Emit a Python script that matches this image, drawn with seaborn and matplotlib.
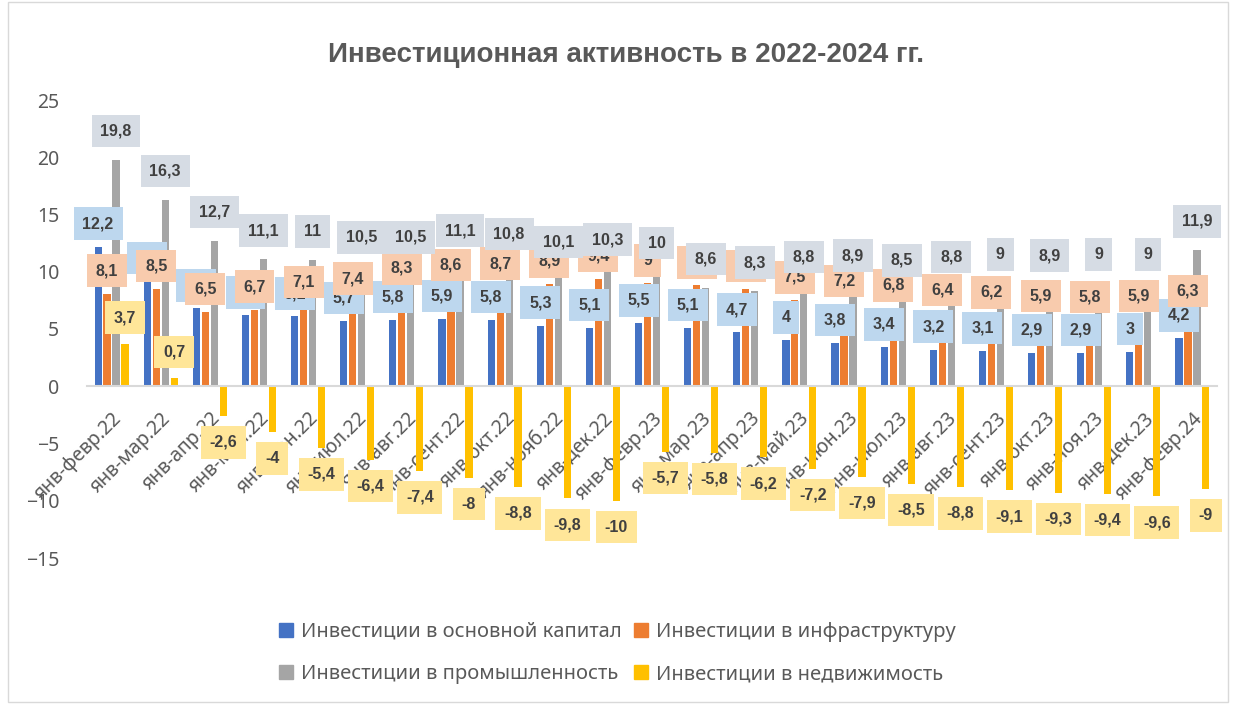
import matplotlib
matplotlib.use('Agg')
import matplotlib.pyplot as plt
from matplotlib.patches import Patch, Rectangle
import seaborn as sns
import pandas as pd


periods = ['янв-февр.22', 'янв-мар.22', 'янв-апр.22', 'янв-май.22', 'янв-июн.22',
           'янв-июл.22', 'янв-авг.22', 'янв-сент.22', 'янв-окт.22', 'янв-нояб.22',
           'янв-дек.22', 'янв-февр.23', 'янв-мар.23', 'янв-апр.23', 'янв-май.23',
           'янв-июн.23', 'янв-июл.23', 'янв-авг.23', 'янв-сент.23', 'янв-окт.23',
           'янв-ноя.23', 'янв-дек.23', 'янв-февр.24']

capital = [12.2, 9.2, 6.8, 6.2, 6.1, 5.7, 5.8, 5.9, 5.8, 5.3, 5.1, 5.5,
           5.1, 4.7, 4.0, 3.8, 3.4, 3.2, 3.1, 2.9, 2.9, 3.0, 4.2]
infra = [8.1, 8.5, 6.5, 6.7, 7.1, 7.4, 8.3, 8.6, 8.7, 8.9, 9.4, 9.0,
         8.8, 8.5, 7.5, 7.2, 6.8, 6.4, 6.2, 5.9, 5.8, 5.9, 6.3]
industry = [19.8, 16.3, 12.7, 11.1, 11.0, 10.5, 10.5, 11.1, 10.8, 10.1, 10.3, 10.0,
            8.6, 8.3, 8.8, 8.9, 8.5, 8.8, 9.0, 8.9, 9.0, 9.0, 11.9]
realty = [3.7, 0.7, -2.6, -4.0, -5.4, -6.4, -7.4, -8.0, -8.8, -9.8, -10.0, -5.7,
          -5.8, -6.2, -7.2, -7.9, -8.5, -8.8, -9.1, -9.3, -9.4, -9.6, -9.0]

series_names = ['Инвестиции в основной капитал', 'Инвестиции в инфраструктуру',
                'Инвестиции в промышленность', 'Инвестиции в недвижимость']
colors = ['#4472C4', '#ED7D31', '#A5A5A5', '#FFC000']
label_bg = ['#BDD7EE', '#F8CBAD', '#D6DCE4', '#FFE699']
label_off = [2.0, 2.0, 2.5, 2.3]

df = pd.DataFrame({
    'period': periods * 4,
    'series': [n for n in series_names for _ in periods],
    'value': capital + infra + industry + realty,
})

sns.set_style('white')
plt.rcParams['font.family'] = ['Noto Sans', 'DejaVu Sans']
bold_font = ['Liberation Sans', 'DejaVu Sans']

fig = plt.figure(figsize=(12.35, 7.04), dpi=100)
ax = fig.add_axes([87 / 1235, 1 - 558 / 704, 1130 / 1235, 458 / 704])

sns.barplot(data=df, x='period', y='value', hue='series', order=periods,
            hue_order=series_names, palette=colors, saturation=1, width=0.73,
            gap=0.2, errorbar=None, legend=False, linewidth=0, ax=ax)

# data labels in coloured boxes
for k, (cont, bg, off) in enumerate(zip(ax.containers, label_bg, label_off)):
    for bar in cont:
        h = bar.get_height()
        x = bar.get_x() + bar.get_width() / 2
        y = h + off if h >= 0 else h - off
        txt = f'{h:g}'.replace('.', ',')
        ax.text(x, y, txt, ha='center', va='center', fontsize=11.5, family=bold_font,
                fontweight='bold', color='#404040', zorder=5 + k, clip_on=False,
                bbox=dict(boxstyle='square,pad=0.55', fc=bg, ec='none'))

ax.set_ylim(-15, 25)
ax.set_yticks(range(-15, 30, 5))
ax.set_xlabel('')
ax.set_ylabel('')
for s in ['top', 'right', 'left']:
    ax.spines[s].set_visible(False)
ax.spines['bottom'].set_position(('data', 0))
ax.spines['bottom'].set_color('#D9D9D9')
ax.spines['bottom'].set_linewidth(1.5)

ax.tick_params(axis='both', length=0, labelsize=14, labelcolor='#595959')
ax.tick_params(axis='y', pad=20)
ax.tick_params(axis='x', pad=16)
plt.setp(ax.get_xticklabels(), rotation=45, ha='right', rotation_mode='anchor')

fig.text(0.507, 1 - 55 / 704, 'Инвестиционная активность в 2022-2024 гг.',
         ha='center', va='center', fontsize=20, fontweight='bold', family=bold_font,
         color='#595959')

order = [0, 2, 1, 3]
handles = [Patch(color=colors[i], label=series_names[i]) for i in order]
fig.legend(handles=handles, ncol=2, loc='center', bbox_to_anchor=(0.5, 1 - 653 / 704),
           frameon=False, fontsize=14.5, labelcolor='#595959', handlelength=0.7,
           handleheight=0.7, handletextpad=0.4, columnspacing=0.6, labelspacing=1.1)

fig.patches.append(Rectangle((8 / 1235, 2 / 704), 1220 / 1235, 700 / 704,
                             transform=fig.transFigure, fill=False,
                             ec='#D9D9D9', lw=1))

fig.savefig('out.png', dpi=100)
